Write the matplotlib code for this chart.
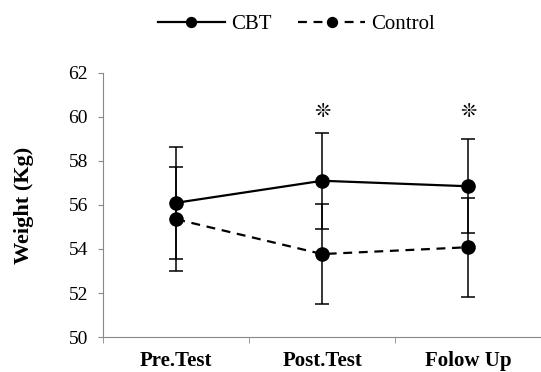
import numpy as np
import matplotlib
matplotlib.use("Agg")
import matplotlib.pyplot as plt

plt.rcParams['font.family'] = ['Liberation Serif', 'DejaVu Sans']

# data
categories = ["Pre.Test", "Post.Test", "Folow Up"]
cbt_mean = [56.1, 57.1, 56.85]
cbt_err = [2.55, 2.17, 2.13]
ctrl_mean = [55.35, 53.77, 54.08]
ctrl_err = [2.36, 2.26, 2.25]
star_pos = [1, 2]
star_y = 60.25

x = np.arange(len(categories))

fig = plt.figure(figsize=(5.41, 3.72), dpi=100)
ax = fig.add_axes([0.191, 0.094, 0.809, 0.71])

ax.errorbar(x, cbt_mean, yerr=cbt_err, fmt='none', ecolor='black',
            elinewidth=1.1, capsize=5, capthick=1.1, zorder=2)
ax.errorbar(x, ctrl_mean, yerr=ctrl_err, fmt='none', ecolor='black',
            elinewidth=1.1, capsize=5, capthick=1.1, zorder=2)
ax.plot(x, cbt_mean, '-', color='black', lw=1.6, marker='o', ms=9.5, label='CBT', zorder=3)
ax.plot(x, ctrl_mean, '--', color='black', lw=1.6, marker='o', ms=9.5,
        dashes=(4, 3), label='Control', zorder=3)

for p in star_pos:
    ax.text(p, star_y, '\u274a', ha='center', va='center', fontsize=14,
            family=['DejaVu Sans'])

ax.set_ylim(50, 62)
ax.set_yticks(np.arange(50, 63, 2))
ax.set_xlim(-0.5, 2.436)
ax.set_xticks(x)
ax.set_xticklabels(categories, fontsize=15, fontweight='bold')
ax.set_xticks([-0.5, 0.5, 1.5, 2.5], minor=True)
ax.tick_params(axis='x', which='major', length=0, pad=10)
ax.tick_params(axis='x', which='minor', length=4, color='#888888')
ax.tick_params(axis='y', length=3.6, color='#888888', labelsize=14, pad=7.5)
ax.set_ylabel('Weight (Kg)', fontsize=16, fontweight='bold', labelpad=25)

for s in ['top', 'right']:
    ax.spines[s].set_visible(False)
for s in ['left', 'bottom']:
    ax.spines[s].set_color('#888888')

fig.legend(loc='center', bbox_to_anchor=(0.548, 0.935), ncol=2, frameon=False,
           fontsize=15, handlelength=3.2, numpoints=1, columnspacing=1.3,
           handletextpad=0.3, markerscale=0.75)

fig.savefig('out.png', dpi=100)
